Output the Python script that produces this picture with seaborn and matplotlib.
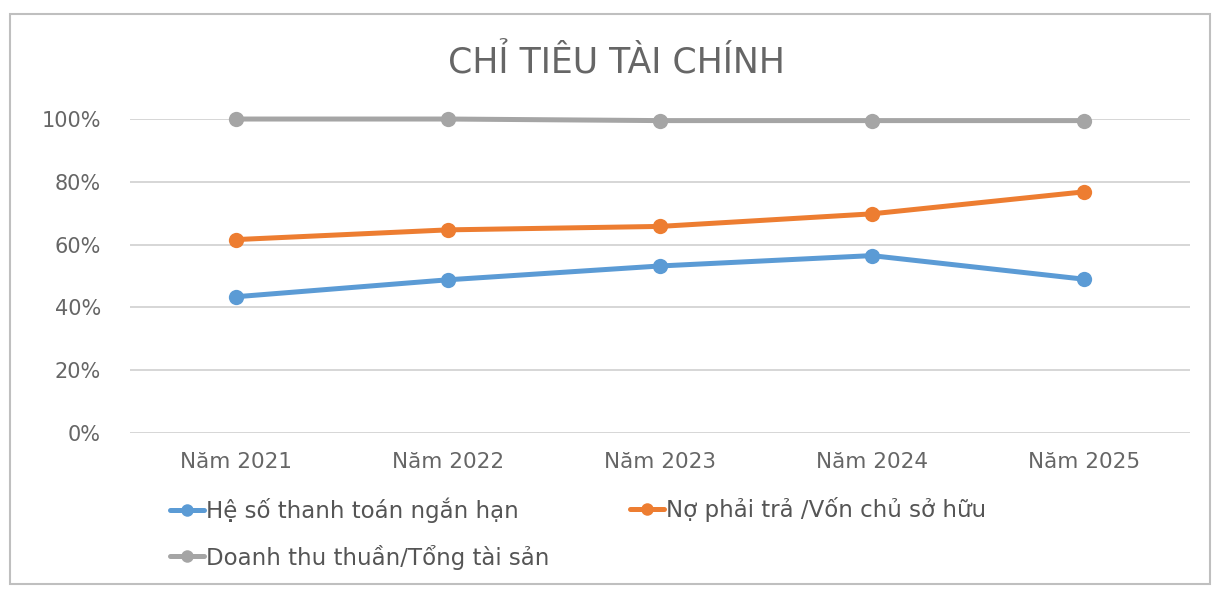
import matplotlib
matplotlib.use("Agg")
import matplotlib.pyplot as plt
import seaborn as sns
import pandas as pd
from matplotlib.patches import Rectangle
from matplotlib.lines import Line2D
from matplotlib.ticker import FuncFormatter

years = ["Năm 2021", "Năm 2022", "Năm 2023", "Năm 2024", "Năm 2025"]
series_names = ["Hệ số thanh toán ngắn hạn", "Nợ phải trả /Vốn chủ sở hữu", "Doanh thu thuần/Tổng tài sản"]
he_so = [0.434, 0.488, 0.532, 0.565, 0.490]
no_phai_tra = [0.616, 0.647, 0.658, 0.698, 0.768]
doanh_thu = [1.00, 1.00, 0.995, 0.995, 0.995]
colors = ["#5B9BD5", "#ED7D31", "#A5A5A5"]

sns.set_style("white")
plt.rcParams['font.family'] = ['DejaVu Sans']

df = pd.DataFrame({
    "year": years * 3,
    "value": he_so + no_phai_tra + doanh_thu,
    "series": [series_names[0]] * 5 + [series_names[1]] * 5 + [series_names[2]] * 5,
})

fig = plt.figure(figsize=(12.19, 5.91), dpi=100)
ax = fig.add_axes([0.1066, 0.2673, 0.8694, 0.5313])

sns.lineplot(data=df, x="year", y="value", hue="series", palette=colors,
             marker="o", markersize=11, linewidth=3.6, markeredgewidth=0,
             ax=ax, legend=False, sort=False)
for ln in ax.lines:
    ln.set_clip_on(False)

ax.set_xlim(-0.5, 4.5)
ax.set_ylim(0, 1.0)
ax.set_yticks([0, 0.2, 0.4, 0.6, 0.8, 1.0])
ax.yaxis.set_major_formatter(FuncFormatter(lambda v, p: f"{int(round(v*100))}%"))
ax.grid(axis="y", color="#d0d0d0", linewidth=1.2)
ax.set_axisbelow(True)
for s in ax.spines.values():
    s.set_visible(False)
ax.tick_params(axis="both", length=0, labelcolor="#666666")
ax.tick_params(axis="y", pad=21, labelsize=15)
ax.tick_params(axis="x", pad=14, labelsize=15.5)
ax.set_xlabel("")
ax.set_ylabel("")

fig.text(0.506, 0.893, "CHỈ TIÊU TÀI CHÍNH", ha="center", va="center",
         fontsize=25, color="#666666")

handles = [Line2D([], [], color=c, linewidth=3.6, marker="o", markersize=9, markeredgewidth=0) for c in colors]
positions = [(170, 510), (630, 510), (170, 557)]
for h, name, (px, py) in zip(handles, series_names, positions):
    fig.legend([h], [name], loc="center left",
               bbox_to_anchor=(px / 1219, 1 - py / 591),
               frameon=False, fontsize=16.5, labelcolor="#555555",
               handlelength=1.5, handletextpad=0.05,
               borderpad=0, borderaxespad=0)

fig.patches.append(Rectangle((0.008, 0.012), 0.985, 0.965, transform=fig.transFigure,
                             fill=False, edgecolor="#bfbfbf", linewidth=1.5))

fig.savefig("out.png", dpi=100)
